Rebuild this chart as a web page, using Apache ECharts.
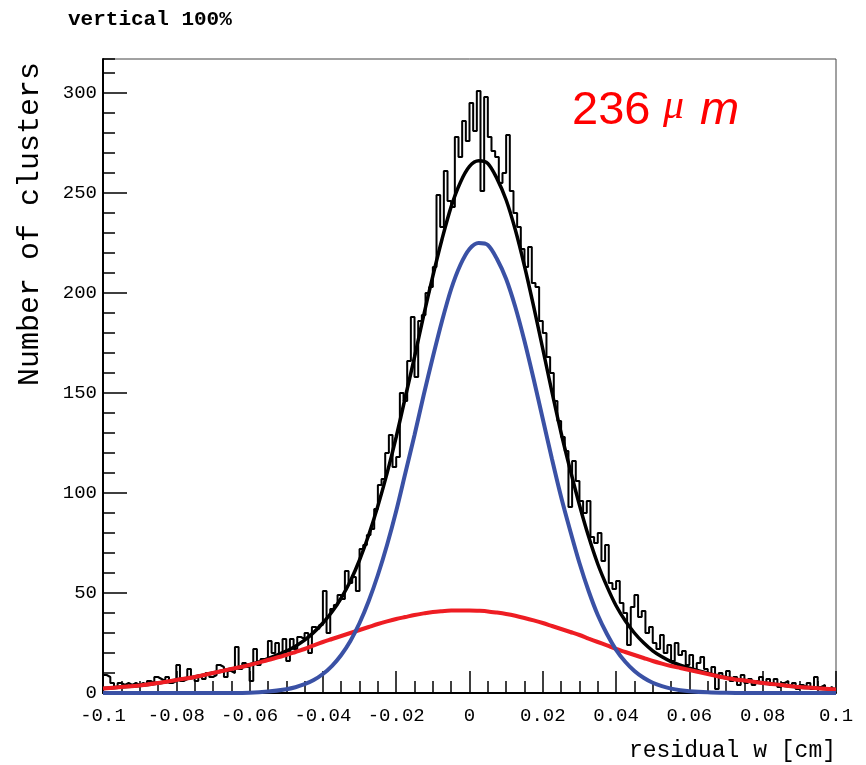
<!DOCTYPE html>
<html><head><meta charset="utf-8">
<script src="https://cdn.jsdelivr.net/npm/echarts@6.0.0/dist/echarts.min.js"></script>
<style>html,body{margin:0;padding:0;background:#fff}#c{width:866px;height:765px}</style>
</head><body><div id="c"></div>
<script>
// ---- data ----
const histLow = -0.1;
const histBinWidth = 0.001;
const histCounts = [
  9, 8, 5, 3, 5, 4, 5, 4, 5, 4,
  5, 4, 6, 5, 8, 7, 6, 8, 5, 6,
  14, 6, 7, 12, 8, 6, 9, 7, 10, 8,
  9, 14, 13, 8, 11, 10, 23, 12, 15, 13,
  6, 22, 14, 17, 16, 26, 20, 25, 19, 27,
  16, 27, 22, 28, 27, 30, 20, 33, 32, 34,
  51, 30, 42, 44, 49, 47, 61, 55, 58, 51,
  72, 74, 79, 82, 92, 104, 107, 120, 129, 113,
  118, 150, 146, 166, 188, 158, 186, 189, 200, 203,
  213, 249, 233, 261, 246, 243, 278, 268, 286, 276,
  295, 281, 301, 251, 298, 278, 271, 268, 255, 260,
  279, 251, 240, 233, 222, 213, 223, 205, 203, 186,
  180, 168, 160, 146, 136, 128, 121, 93, 116, 106,
  96, 90, 96, 78, 75, 80, 66, 74, 55, 52,
  56, 45, 40, 24, 43, 49, 38, 41, 30, 33,
  25, 22, 29, 20, 24, 16, 25, 19, 21, 14,
  19, 11, 15, 18, 12, 9, 13, 2, 10, 8,
  11, 6, 8, 4, 9, 5, 7, 4, 6, 8,
  5, 7, 4, 7, 3, 5, 6, 3, 5, 2,
  4, 3, 5, 2, 8, 3, 4, 2, 3, 1
];
const fitX = [
  -0.1, -0.095, -0.09, -0.085, -0.08, -0.075, -0.07, -0.065, -0.06, -0.055,
  -0.05, -0.0475, -0.045, -0.0425, -0.04, -0.0375, -0.035, -0.0325, -0.03, -0.0275,
  -0.025, -0.0225, -0.02, -0.0175, -0.015, -0.0125, -0.01, -0.0075, -0.005, -0.0025,
  0, 0.0025, 0.005, 0.0075, 0.01, 0.0125, 0.015, 0.0175, 0.02, 0.0225,
  0.025, 0.0275, 0.03, 0.0325, 0.035, 0.0375, 0.04, 0.0425, 0.045, 0.0475,
  0.05, 0.0525, 0.055, 0.0575, 0.06, 0.065, 0.07, 0.075, 0.08, 0.085,
  0.09, 0.095, 0.1
];
const fitTotal = [
  2.2, 3, 3.8, 5, 6.5, 8, 10, 12, 14.1, 17.2,
  20.9, 23.4, 26.4, 30.3, 35, 40.6, 47.5, 56, 66.5, 79,
  93.5, 109.8, 128, 148, 168, 188.8, 208.5, 226.9, 243.2, 255.3,
  263.3, 266.1, 264.8, 257.2, 246.5, 231.6, 213.5, 193.3, 172, 150.5,
  130, 111.5, 94, 78.2, 64.5, 53.3, 43.6, 36.1, 30, 25.1,
  21.1, 18.1, 15.7, 13.9, 12.4, 9.85, 7.6, 6.2, 5, 4,
  3, 2.4, 1.8
];
const fitNarrow = [
  0, 0, 0, 0, 0, 0, 0, 0, 0.1, 0.7,
  1.9, 2.9, 4.4, 6.5, 9.5, 13.6, 19, 26, 35, 46,
  59, 74, 91, 110, 129, 149, 168, 186, 202, 214,
  222, 225, 224, 217, 207, 193, 176, 157, 137, 117,
  98, 81, 65, 51, 39, 29.5, 21.6, 15.6, 11, 7.6,
  5.1, 3.4, 2.2, 1.4, 0.9, 0.35, 0.1, 0, 0, 0,
  0, 0, 0
];
const fitWide = [
  2.2, 3, 3.8, 5, 6.5, 8, 10, 12, 14, 16.5,
  19, 20.5, 22, 23.8, 25.5, 27, 28.5, 30, 31.5, 33,
  34.5, 35.8, 37, 38, 39, 39.8, 40.5, 40.9, 41.2, 41.3,
  41.3, 41.1, 40.8, 40.2, 39.5, 38.6, 37.5, 36.3, 35, 33.5,
  32, 30.5, 29, 27.2, 25.5, 23.8, 22, 20.5, 19, 17.5,
  16, 14.7, 13.5, 12.5, 11.5, 9.5, 7.5, 6.2, 5, 4,
  3, 2.4, 1.8
];
const xTickValues = [-0.1, -0.08, -0.06, -0.04, -0.02, 0, 0.02, 0.04, 0.06, 0.08, 0.1];
const yTickValues = [0, 50, 100, 150, 200, 250, 300];
const titleText = 'vertical 100%';
const xTitle = 'residual w [cm]';
const yTitle = 'Number of clusters';
const resParts = ['236', '\u03bc', 'm'];

// ---- build series data ----
const histData = histCounts.map((v, i) => [histLow + i * histBinWidth, v]);
histData.push([histLow + histCounts.length * histBinWidth, histCounts[histCounts.length - 1]]);
const pair = arr => fitX.map((x, i) => [x, arr[i]]);

const monoFont = '"Liberation Mono", "DejaVu Sans Mono", monospace';
const chart = echarts.init(document.getElementById('c'), null, {renderer: 'canvas'});
chart.setOption({
  animation: false,
  backgroundColor: '#fff',
  grid: {left: 103, right: 30, top: 59, bottom: 72, show: true, borderColor: '#444', borderWidth: 1, outerBoundsMode: 'none', containLabel: false},
  xAxis: {
    type: 'value', min: xTickValues[0], max: xTickValues[xTickValues.length - 1], interval: 0.02,
    axisLine: {show: true, onZero: false, lineStyle: {color: '#000', width: 2}},
    axisTick: {show: true, inside: true, length: 22, lineStyle: {color: '#000', width: 1.5}},
    minorTick: {show: true, splitNumber: 4, length: 12, lineStyle: {color: '#000', width: 1.5}},
    splitLine: {show: false},
    axisLabel: {
      margin: 13, color: '#000', fontFamily: monoFont, fontSize: 19,
      formatter: v => String(+(+v).toFixed(2)), showMinLabel: true, showMaxLabel: true
    }
  },
  yAxis: [{
    type: 'value', min: 0, max: 317, interval: 50, position: 'left',
    axisLine: {show: true, onZero: false, lineStyle: {color: '#000', width: 2}},
    axisTick: {show: true, inside: true, length: 24, lineStyle: {color: '#000', width: 1.5}},
    splitLine: {show: false},
    axisLabel: {margin: 6, color: '#000', fontFamily: monoFont, fontSize: 19, showMaxLabel: false,
      formatter: v => (yTickValues.indexOf(Math.round(v)) >= 0 ? String(Math.round(v)) : '')}
  }, {
    type: 'value', min: 0, max: 317, interval: 10, position: 'left', offset: 0,
    axisLine: {show: false, onZero: false},
    axisTick: {show: true, inside: true, length: 12, lineStyle: {color: '#000', width: 1.5}},
    splitLine: {show: false},
    axisLabel: {show: false}
  }],
  series: [{
    type: 'line', name: 'histogram', step: 'end', data: histData, symbol: 'none',
    lineStyle: {color: '#000', width: 2}, z: 2
  }, {
    type: 'line', name: 'total fit', data: pair(fitTotal), smooth: 0.3, symbol: 'none',
    lineStyle: {color: '#000', width: 3.5}, z: 3
  }, {
    type: 'line', name: 'wide gaussian', data: pair(fitWide), smooth: 0.3, symbol: 'none', clip: false,
    lineStyle: {color: '#ee1d23', width: 4}, z: 4
  }, {
    type: 'line', name: 'narrow gaussian', data: pair(fitNarrow), smooth: 0.3, symbol: 'none', clip: false,
    lineStyle: {color: '#3a51a5', width: 4}, z: 5
  }],
  graphic: [
    {type: 'text', x: 68, y: 20, style: {text: titleText, fill: '#000', font: 'bold 21px ' + monoFont, align: 'left', verticalAlign: 'middle'}},
    {type: 'text', x: 836, y: 751, style: {text: xTitle, fill: '#000', font: '23px ' + monoFont, align: 'right', verticalAlign: 'middle'}},
    {type: 'text', x: 30, y: 62, rotation: Math.PI / 2, style: {text: yTitle, fill: '#000', font: '30px ' + monoFont, align: 'right', verticalAlign: 'middle'}},
    {type: 'text', x: 572, y: 111, style: {text: resParts[0], fill: '#ff0000', font: '47px "Liberation Sans", Arial, sans-serif', align: 'left', verticalAlign: 'middle'}},
    {type: 'text', x: 663, y: 107, style: {text: resParts[1], fill: '#ff0000', font: 'italic 42px "Liberation Serif", serif', align: 'left', verticalAlign: 'middle'}},
    {type: 'text', x: 700, y: 111, style: {text: resParts[2], fill: '#ff0000', font: 'italic 47px "Liberation Sans", Arial, sans-serif', align: 'left', verticalAlign: 'middle'}}
  ]
});
</script></body></html>
